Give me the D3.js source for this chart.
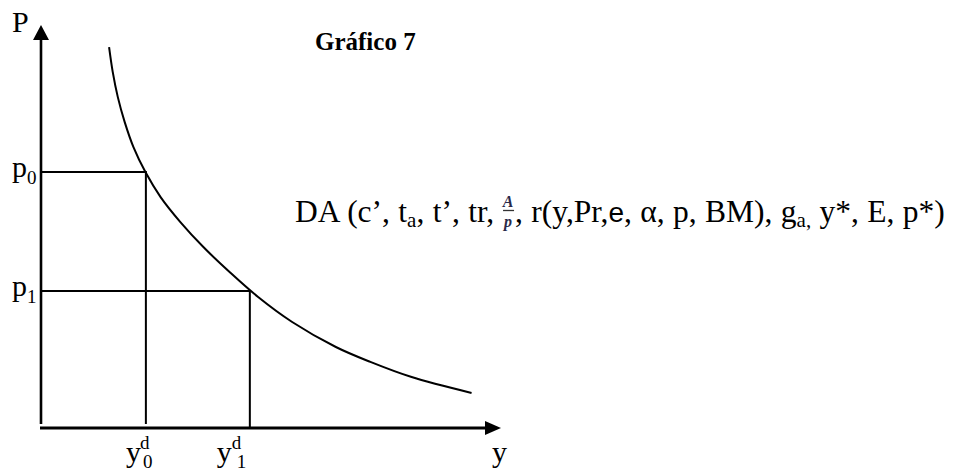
<!DOCTYPE html>
<html>
<head>
<meta charset="utf-8">
<script src="https://cdn.jsdelivr.net/npm/d3@7"></script>
<style>
  html, body { margin: 0; padding: 0; background: #fff; }
  svg { display: block; }
  text { font-family: "Liberation Serif", "Times New Roman", serif; fill: #000; }
</style>
</head>
<body>
<svg id="chart" width="959" height="471"></svg>
<script>
// Aggregate demand curve DA, in axis units (output y, price P)
const demandY = [1.48, 1.56, 1.67, 1.82, 2.01, 2.27, 2.60, 3.03, 3.53, 4.10, 4.72, 5.46, 6.41, 7.16, 8.04, 9.36];
const demandP = [9.45, 8.83, 8.21, 7.59, 6.97, 6.35, 5.73, 5.11, 4.49, 3.87, 3.25, 2.63, 2.01, 1.64, 1.27, 0.87];

// Two price levels and the quantities demanded at each
const priceLevels = [6.35, 3.40];
const priceLabels = ["0", "1"];
const outputLevels = [2.28, 4.54];
const outputLabels = ["0", "1"];

const title = "Gráfico 7";
const axisLabelP = "P";
const axisLabelY = "y";

const svg = d3.select("#chart");

const x = d3.scaleLinear().domain([0, 10]).range([41, 501]);
const yS = d3.scaleLinear().domain([0, 10]).range([428, 25]);

// Axes with arrowheads
const g = svg.append("g");
g.append("line")
  .attr("x1", x(0)).attr("x2", x(0))
  .attr("y1", yS(0) - 4).attr("y2", yS(10) + 10)
  .attr("stroke", "#000").attr("stroke-width", 2.6);
g.append("path")
  .attr("d", `M${x(0)},${yS(10)} L${x(0) - 8},${yS(10) + 15} L${x(0) + 8},${yS(10) + 15} Z`)
  .attr("fill", "#000");
g.append("line")
  .attr("x1", x(0) - 1).attr("x2", x(10) - 10)
  .attr("y1", yS(0)).attr("y2", yS(0))
  .attr("stroke", "#000").attr("stroke-width", 2.8);
g.append("path")
  .attr("d", `M${x(10)},${yS(0)} L${x(10) - 16},${yS(0) - 7} L${x(10) - 16},${yS(0) + 7} Z`)
  .attr("fill", "#000");

// Reference lines from the price levels to the curve and down to the output axis
priceLevels.forEach((p, i) => {
  const q = outputLevels[i];
  g.append("path")
    .attr("d", `M${x(0)},${yS(p)} H${x(q)} V${yS(0) - (i === 0 ? 4 : 0)}`)
    .attr("fill", "none").attr("stroke", "#000").attr("stroke-width", 2);
});

// Demand curve
const pts = demandY.map((d, i) => [d, demandP[i]]);
g.append("path")
  .datum(pts)
  .attr("d", d3.line().x(d => x(d[0])).y(d => yS(d[1])).curve(d3.curveCatmullRom.alpha(0.5)))
  .attr("fill", "none").attr("stroke", "#000").attr("stroke-width", 2);

// Axis names
svg.append("text").attr("x", 12).attr("y", 32).attr("font-size", 30).text(axisLabelP);
svg.append("text").attr("x", x(10) - 9).attr("y", 462).attr("font-size", 30).text(axisLabelY);

// Title
svg.append("text").attr("x", 315).attr("y", 50).attr("font-size", 25)
  .attr("font-weight", "bold").text(title);

// Price labels p0, p1
priceLevels.forEach((p, i) => {
  const t = svg.append("text").attr("x", 12).attr("y", yS(p) + 5).attr("font-size", 30);
  t.append("tspan").text("p");
  t.append("tspan").attr("font-size", 19).attr("dy", 7).text(priceLabels[i]);
});

// Output labels y^d_0, y^d_1
const labelShift = [[-20, -6, -3], [-33, -18, -13]];
outputLevels.forEach((q, i) => {
  const cx = x(q);
  const s = labelShift[i];
  const t = svg.append("text").attr("font-size", 30);
  t.append("tspan").attr("x", cx + s[0]).attr("y", 462).text("y");
  t.append("tspan").attr("x", cx + s[1]).attr("y", 449).attr("font-size", 19).text("d");
  t.append("tspan").attr("x", cx + s[2]).attr("y", 468).attr("font-size", 19).text(outputLabels[i]);
});

// Curve label: DA (...) with its determinants
const baseX = 295, baseY = 222, fs = 31.5, ws = 0.5;
const part1 = svg.append("text").attr("x", baseX).attr("y", baseY)
  .attr("font-size", fs).attr("word-spacing", ws);
part1.append("tspan").text("DA (c’, t");
part1.append("tspan").attr("font-size", 21).attr("dy", 5).text("a");
part1.append("tspan").attr("dy", -5).text(", t’, tr,");
const w1 = part1.node().getComputedTextLength();

// A/p fraction
const fx = baseX + w1 + 14;
svg.append("text").attr("x", fx).attr("y", 207).attr("font-size", 16)
  .attr("font-style", "italic").attr("font-weight", "bold").attr("text-anchor", "middle")
  .style("fill", "#2a2a4a").text("A");
svg.append("line").attr("x1", fx - 5).attr("x2", fx + 6).attr("y1", 210.5).attr("y2", 210.5)
  .attr("stroke", "#333").attr("stroke-width", 1.3);
svg.append("text").attr("x", fx).attr("y", 227).attr("font-size", 16)
  .attr("font-style", "italic").attr("font-weight", "bold").attr("text-anchor", "middle")
  .style("fill", "#2a2a4a").text("p");

const part2 = svg.append("text").attr("x", fx + 7).attr("y", baseY)
  .attr("font-size", fs).attr("word-spacing", ws);
part2.append("tspan").text(", r(y,Pr,");
part2.append("tspan").style("font-family", "'Liberation Sans', Arial, sans-serif").attr("font-size", 28).text("e");
part2.append("tspan").text(", α, p, BM), g");
part2.append("tspan").attr("font-size", 21).attr("dy", 5).text("a,");
part2.append("tspan").attr("dy", -5).text(" y*, E, p*)");
</script>
</body>
</html>
